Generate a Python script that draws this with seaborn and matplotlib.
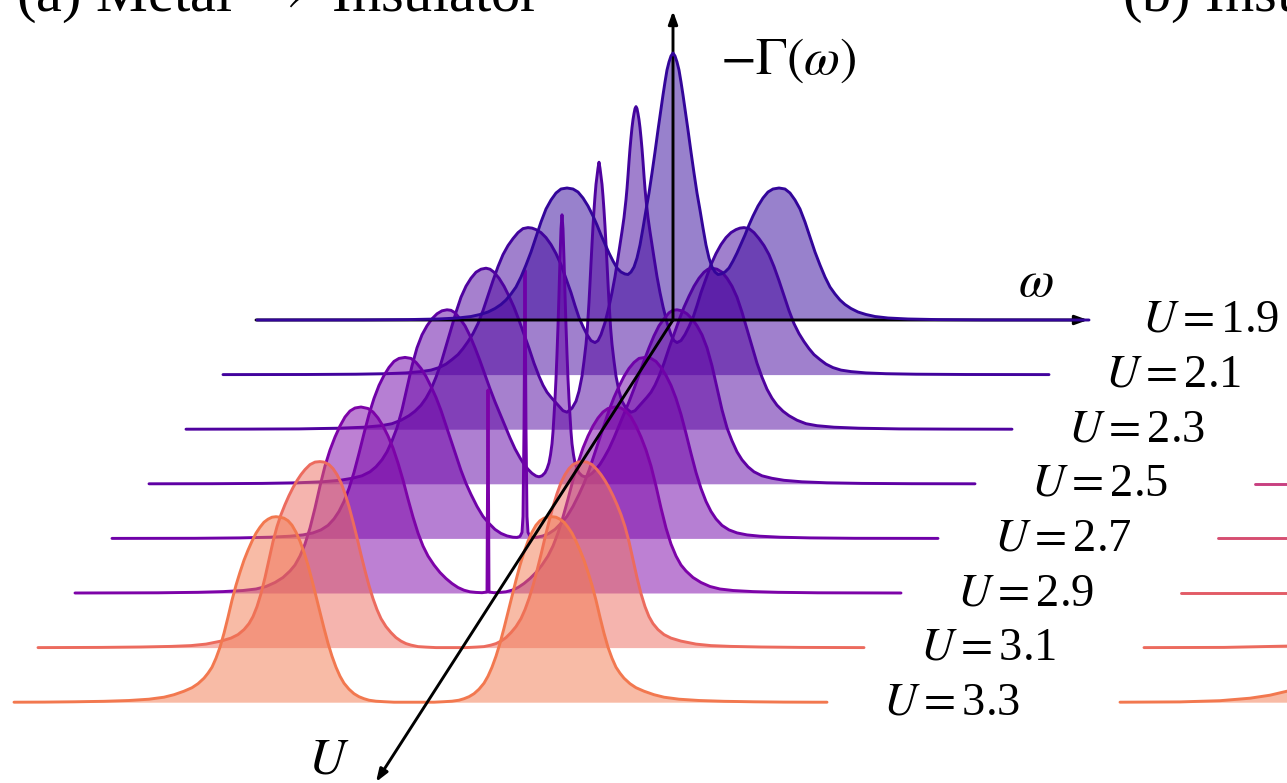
import numpy as np
import matplotlib
matplotlib.use("Agg")
import matplotlib.pyplot as plt
import seaborn as sns

U_VALUES = [1.9, 2.1, 2.3, 2.5, 2.7, 2.9, 3.1, 3.3]
LINE_COLORS = ["#33059a", "#42039d", "#4f029f", "#5f01a4", "#6f01a8", "#7d03a8", "#ec6b5e", "#f2784f"]

# half profiles, the spectra are symmetric in omega: (|omega|, height)
PROFILE_19 = [(0, 267), (2, 264), (4, 258), (6, 250), (8, 238), (10, 225), (12, 211), (15, 190), (18, 168), (21, 147),
              (24, 127), (27, 110), (30, 92), (33, 75), (36, 62), (39, 53), (42, 48), (45, 45.5), (48, 46), (52, 48),
              (56, 52), (60, 59), (64, 67), (68, 76), (72, 85), (76, 95), (80, 104), (85, 114), (90, 122), (95, 128),
              (100, 131), (106, 132), (112, 131), (117, 127), (122, 120), (127, 111), (132, 98), (137, 83), (142, 68),
              (147, 55), (152, 43), (157, 33), (162, 26), (167, 20), (172, 15.5), (178, 11.5), (185, 8), (193, 5.5),
              (202, 3.5), (215, 2), (235, 1), (265, 0.4), (310, 0.1), (416, 0)]
PROFILE_21 = [(0, 268), (1, 266), (2, 261), (3, 255), (4, 247), (5, 237), (6, 226), (7, 213), (8, 199), (9, 186),
              (10, 175), (12, 157), (14, 143), (16, 130), (18, 117), (21, 98), (24, 82), (27, 68), (31, 52), (35, 40),
              (38, 34), (41, 32), (45, 34), (49, 40), (53, 48), (57, 57), (61, 69), (65, 82), (70, 96), (75, 110),
              (80, 121), (85, 130), (90, 137), (95, 142), (100, 145), (104, 146.5), (108, 147), (113, 146), (118, 142),
              (123, 136), (128, 129), (133, 120), (138, 108), (143, 94), (148, 79), (153, 64), (158, 51), (163, 41),
              (168, 33), (173, 26), (178, 20), (184, 15), (190, 10.5), (197, 7), (205, 4.5), (215, 3), (230, 1.7),
              (250, 0.9), (280, 0.4), (330, 0.1), (413, 0)]
PROFILE_23 = [(0, 267), (1, 261), (2, 253), (3, 245), (4, 233), (5, 219), (6, 203), (7, 185), (8, 166), (9, 146),
              (10, 127), (11.7, 100), (13, 85), (15, 68), (17, 53), (20, 38), (23, 28), (27, 21), (32, 17), (36, 18.5),
              (40, 23), (44, 27.5), (48, 32), (52, 37), (56, 44), (60, 53), (65, 66), (70, 81), (75, 95), (80, 109),
              (85, 122), (90, 133), (95, 143), (100, 151), (105, 157), (109, 160), (113, 161), (118, 160), (123, 157),
              (128, 151), (133, 143), (138, 132), (143, 117), (148, 100), (153, 83), (158, 66), (163, 52), (168, 40),
              (173, 31), (178, 24), (184, 18), (190, 13.5), (198, 9), (207, 5.5), (218, 3.5), (235, 2), (260, 1),
              (300, 0.3), (350, 0.1), (413, 0)]
PROFILE_25 = [(0, 269), (1, 255), (2, 225), (3, 190), (4, 158), (5, 130), (6, 105), (7, 85), (8, 68), (9, 52), (10, 40),
              (11.5, 29), (13, 21), (15, 15), (17, 11), (20, 8), (23, 7), (26, 7.8), (30, 10.5), (34, 14.5), (38, 19.5),
              (42, 26), (47, 35), (52, 46), (57, 58), (62, 70), (67, 82), (72, 95), (77, 109), (82, 123), (87, 136),
              (92, 148), (97, 158), (102, 165), (107, 171), (111, 173.5), (115, 174), (120, 173), (125, 170), (130, 165),
              (135, 158), (140, 149), (145, 136), (150, 118), (155, 96), (160, 74), (165, 56), (170, 43), (175, 32),
              (180, 24), (186, 17), (192, 12), (200, 8), (210, 5.5), (222, 3.5), (240, 2), (265, 1), (300, 0.4),
              (350, 0.1), (413, 0)]
PROFILE_27 = [(0, 268), (1, 110), (2, 22), (3, 6), (5, 2), (8, 1), (12, 1.2), (18, 2.5), (24, 5), (30, 9), (36, 15),
              (42, 22), (48, 32), (54, 44), (59, 55), (64, 68), (69, 83), (74, 98), (79, 113), (84, 128), (89, 141),
              (94, 152), (99, 162), (104, 170), (109, 176), (114, 180), (120, 181), (126, 180), (131, 177), (136, 171),
              (141, 163), (146, 153), (151, 140), (156, 124), (161, 105), (166, 85), (171, 66), (176, 50), (181, 37),
              (186, 27), (191, 19.5), (197, 13), (204, 8.5), (212, 5.5), (222, 3.5), (235, 2.2), (255, 1.2), (285, 0.5),
              (330, 0.1), (413, 0)]
PROFILE_29 = [(0, 203), (1, 1), (6, 0.3), (12, 0.6), (18, 1.2), (24, 2.8), (30, 5.5), (36, 9.5), (42, 14.5), (48, 20.5),
              (54, 28), (60, 37), (65, 47), (70, 60), (75, 76), (80, 94), (85, 113), (90, 130), (95, 145), (100, 157),
              (105, 167), (110, 175), (115, 181), (120, 184.5), (127, 186), (133, 185), (138, 182), (143, 176), (148, 167),
              (153, 156), (158, 143), (163, 127), (168, 107), (173, 85), (178, 65), (183, 49), (188, 37), (193, 28),
              (198, 22), (205, 15.5), (213, 10.5), (222, 6.5), (232, 4), (245, 2.5), (265, 1.4), (290, 0.7), (330, 0.2),
              (413, 0)]
PROFILE_31 = [(0, 0), (15, 0), (25, 0.5), (33, 1), (40, 2.5), (45, 4), (50, 6.5), (55, 10), (60, 15), (65, 21), (70, 29),
              (74, 38), (78, 49), (82, 62), (86, 77), (90, 93), (94, 110), (98, 126), (102, 141), (106, 154), (110, 165),
              (114, 173), (118, 179), (122, 183), (127, 185.5), (131, 186), (136, 185.5), (141, 183), (146, 178), (150, 173),
              (154, 167), (158, 160), (162, 152), (166, 143), (170, 133), (174, 121), (178, 106), (182, 88), (186, 70),
              (190, 54), (194, 41), (198, 31), (202, 24), (207, 18), (213, 13), (220, 9.5), (230, 6.5), (245, 3.5),
              (260, 2), (280, 1.2), (310, 0.6), (350, 0.2), (413, 0)]
PROFILE_33 = [(0, 0), (20, 0), (30, 0.5), (38, 1), (45, 2), (50, 3.5), (55, 5.5), (60, 8.5), (65, 13), (70, 19), (74, 26),
              (78, 35), (82, 46), (86, 59), (90, 74), (94, 90), (98, 106), (102, 122), (106, 137), (110, 150), (114, 161),
              (118, 170), (122, 177), (126, 181.5), (130, 184), (134, 185), (138, 185.5), (142, 185), (146, 183), (150, 180),
              (154, 175), (158, 169), (162, 161), (166, 152), (170, 142), (174, 130), (178, 117), (182, 102), (186, 85),
              (190, 69), (194, 55), (198, 44), (202, 35), (206, 29), (210, 24), (216, 18.5), (222, 14.5), (230, 11),
              (240, 7.5), (250, 5), (265, 3), (285, 1.7), (310, 0.9), (340, 0.4), (370, 0.1), (400, 0), (413, 0)]

PROFILES = [PROFILE_19, PROFILE_21, PROFILE_23, PROFILE_25, PROFILE_27, PROFILE_29, PROFILE_31, PROFILE_33]
LEFT_REACH = [416, 413, 413, 413, 413, 413, 413, 400]

# second panel, only its left tails are in the frame
B_U = [2.5, 2.7, 2.9, 3.1, 3.3]
B_COLORS = ["#c83f80", "#d64e71", "#e25b66", "#ec6b5e", "#f2784f"]
B_START = [1255, 1218, 1181, 1144, 1120]
B_TAIL_X = [[0, 32], [0, 69], [0, 106], [0, 80, 143], [0, 60, 100, 130, 150, 167]]
B_TAIL_Y = [[0, 0], [0, 0], [0, 0], [0, 0.2, 1.5], [0, 0.3, 1.5, 4, 7, 11]]

STEP_X = 37.0
STEP_Y = 54.6


def shift(u):
    n = (u - U_VALUES[0]) / 0.2
    return -n * STEP_X, -n * STEP_Y


sns.set_theme(style="white", rc={"mathtext.fontset": "stix", "text.color": "black"})
plt.rcParams["font.family"] = ["Liberation Serif", "DejaVu Serif"]

fig = plt.figure(figsize=(12.87, 7.83), dpi=100)
ax = fig.add_axes([0, 0, 1, 1])
ax.set_xlim(-673, 614)
ax.set_ylim(-463, 320)
ax.axis("off")

for i, u in enumerate(U_VALUES):
    dx, dy = shift(u)
    half_x = np.array([p[0] for p in PROFILES[i]], dtype=float)
    half_y = np.array([p[1] for p in PROFILES[i]], dtype=float)
    xs = np.concatenate([-half_x[:0:-1], half_x])
    ys = np.concatenate([half_y[:0:-1], half_y])
    keep = xs >= -LEFT_REACH[i]
    xs, ys = xs[keep], ys[keep]
    ax.fill_between(xs + dx, dy, ys + dy, color=LINE_COLORS[i], alpha=0.5, lw=0, zorder=2 + i)
    sns.lineplot(x=xs + dx, y=ys + dy, ax=ax, sort=False, estimator=None, color=LINE_COLORS[i],
                 lw=2.1, zorder=(14 if i == 0 else 2 + i), solid_joinstyle="round")

for i, u in enumerate(B_U):
    dy = shift(u)[1]
    xs = np.array(B_TAIL_X[i], dtype=float) + B_START[i] - 673
    ys = np.array(B_TAIL_Y[i], dtype=float)
    ax.fill_between(xs, dy, ys + dy, color=B_COLORS[i], alpha=0.5, lw=0, zorder=2)
    sns.lineplot(x=xs, y=ys + dy, ax=ax, sort=False, estimator=None, color=B_COLORS[i], lw=2.1, zorder=3)

# axes arrows
arrow = dict(arrowstyle="-|>,head_length=0.5,head_width=0.18", color="black", lw=2.1, shrinkA=0, shrinkB=0, mutation_scale=15)
ax.annotate("", xy=(415, 0), xytext=(-417, 0), arrowprops=arrow, zorder=12)
ax.annotate("", xy=(0, 309), xytext=(0, 0), arrowprops=arrow, zorder=12)
ax.annotate("", xy=(-297, -462), xytext=(0, 0), arrowprops=arrow, zorder=12)

ax.text(47, 259, r"$-\Gamma(\omega)$", fontsize=37.5, va="center", ha="left", zorder=20)
ax.text(345, 36, r"$\omega$", fontsize=37, va="center", ha="left", zorder=20)
ax.text(-365, -441, r"$U$", fontsize=37, va="center", ha="left", zorder=20)

for u in U_VALUES:
    dx, dy = shift(u)
    ax.text(469 + dx, dy - 12, f"$U=${u:.1f}", fontsize=33.5, va="baseline", ha="left", zorder=20)

ax.text(-657, 309, r"(a) Metal $\rightarrow$ Insulator", fontsize=42, va="baseline", ha="left", zorder=20)
ax.text(449, 309, r"(b) Insulator $\rightarrow$ Metal", fontsize=42, va="baseline", ha="left", zorder=20)

fig.savefig("out.png", dpi=100)
